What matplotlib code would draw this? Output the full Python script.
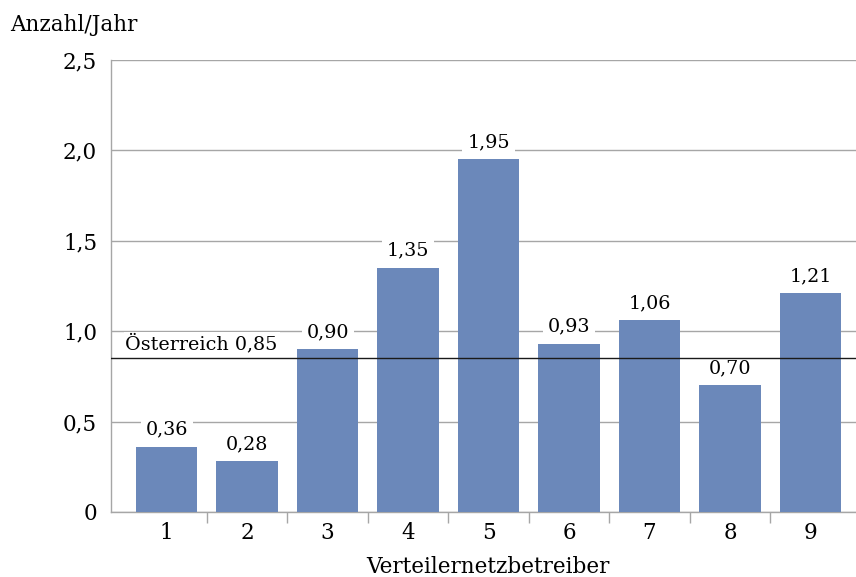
import numpy as np
import matplotlib.pyplot as plt

# Data
betreiber = ['1', '2', '3', '4', '5', '6', '7', '8', '9']
werte = [0.36, 0.28, 0.90, 1.35, 1.95, 0.93, 1.06, 0.70, 1.21]
oesterreich = 0.85
y_ticks = [0, 0.5, 1.0, 1.5, 2.0, 2.5]

def komma(v, fmt='{:.2f}'):
    return fmt.format(v).replace('.', ',')

plt.rcParams['font.family'] = ['DejaVu Serif']
grau = '#a6a6a6'
blau = '#6b88ba'

fig = plt.figure(figsize=(8.56, 5.77), dpi=100)
ax = fig.add_axes([111/856, 65/577, 1 - 111/856, 452/577])

x = np.arange(len(werte))
ax.bar(x, werte, width=0.765, color=blau, zorder=3)

# value labels with white box
for xi, v in zip(x, werte):
    ax.annotate(komma(v), (xi, v), xytext=(0, 6), textcoords='offset points',
                ha='center', va='bottom', fontsize=13.75, zorder=4,
                bbox=dict(boxstyle='square,pad=0.25', fc='white', ec='none'))

# Austria average line
ax.axhline(oesterreich, color='#1a1a1a', lw=1.0, zorder=5)
ax.text(-0.51, oesterreich + 0.025, 'Österreich ' + komma(oesterreich),
        ha='left', va='bottom', fontsize=13.75, zorder=4,
        bbox=dict(boxstyle='square,pad=0.1', fc='white', ec='none'))

ax.set_xlim(-0.69, 8.565)
ax.set_ylim(0, 2.5)
ax.set_yticks(y_ticks)
ax.set_yticklabels([komma(t, '{:.1f}') if t else '0' for t in y_ticks], fontsize=15.5)
ax.set_xticks(x)
ax.set_xticklabels(betreiber, fontsize=15.5)
ax.set_xticks(np.arange(0.5, 8, 1), minor=True)
ax.tick_params(axis='x', which='major', length=0, pad=7)
ax.tick_params(axis='x', which='minor', length=8, color=grau, width=1)
ax.tick_params(axis='y', length=0, pad=10)

ax.grid(axis='y', color=grau, lw=1, zorder=0)
for s in ['top', 'right']:
    ax.spines[s].set_visible(False)
for s in ['left', 'bottom']:
    ax.spines[s].set_color(grau)
    ax.spines[s].set_linewidth(1)

fig.text(10/856, 1 - 25/577, 'Anzahl/Jahr', ha='left', va='center', fontsize=15.5)
fig.text(488/856, 1 - 567/577, 'Verteilernetzbetreiber', ha='center', va='center', fontsize=15.5)

fig.savefig('out.png', dpi=100)
